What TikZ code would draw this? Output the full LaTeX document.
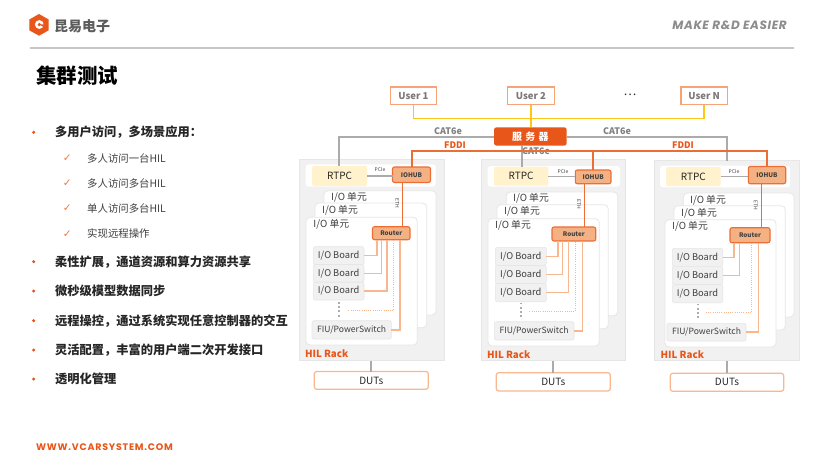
\documentclass[tikz,border=0pt]{standalone}
\usepackage{fontspec}
\setmainfont{Noto Sans CJK SC}
\newfontfamily\latinfont{Poppins}
\newfontfamily\symfont{DejaVu Sans}
\definecolor{brand}{HTML}{E9561A}
\definecolor{wirehot}{HTML}{EC6E35}
\definecolor{wirelite}{HTML}{F8B78F}
\definecolor{hubfill}{HTML}{F4B183}
\definecolor{userline}{HTML}{F6A27A}
\definecolor{rackfill}{HTML}{F1F1F1}
\definecolor{rackline}{HTML}{E6E6E6}
\definecolor{pcfill}{HTML}{FFF2CC}
\definecolor{cable}{HTML}{ABABAB}
\definecolor{ink}{HTML}{262626}
\definecolor{soft}{HTML}{404040}
\definecolor{yellowbus}{HTML}{FFC61A}
\tikzset{
  rackbox/.style={draw=rackline,fill=rackfill,line width=1pt},
  stripbox/.style={fill=white,rounded corners=3pt},
  cardbox/.style={draw=rackline,fill=white,line width=.8pt,rounded corners=4pt},
  pcbox/.style={fill=pcfill,rounded corners=2pt,text=ink,font=\fontsize{10}{12}\selectfont},
  hubbox/.style={draw=wirehot,fill=hubfill,line width=1.1pt,rounded corners=2pt,text=soft,font=\fontsize{6.3}{8}\bfseries\selectfont},
  boardbox/.style={draw=rackline,fill=rackfill,line width=.6pt,rounded corners=2pt,text=soft,font=\fontsize{9.3}{11}\selectfont},
  fiubox/.style={boardbox,font=\fontsize{8.6}{11}\selectfont},
  userbox/.style={draw=userline,fill=white,line width=1.2pt,text=gray!95!black,font=\fontsize{9.5}{11}\bfseries\selectfont},
  serverbox/.style={fill=brand,rounded corners=2.5pt,text=white,font=\fontsize{10}{12}\bfseries\selectfont},
  dutbox/.style={draw=wirelite,fill=white,line width=1.2pt,rounded corners=2.5pt,text=ink,font=\fontsize{10}{12}\selectfont},
  unitlabel/.style={inner sep=0pt,text=soft,font=\fontsize{9.8}{11}\selectfont},
  racklabel/.style={inner sep=0pt,text=brand,font=\fontsize{9.8}{12}\bfseries\selectfont},
  tinylabel/.style={inner sep=0pt,text=soft,font=\fontsize{5}{6}\selectfont},
  cablelabel/.style={inner sep=0pt,text=gray,font=\fontsize{9}{11}\bfseries\selectfont},
  fddilabel/.style={inner sep=0pt,text=brand,font=\fontsize{9}{11}\bfseries\selectfont},
  cat/.style={draw=cable,line width=1.7pt},
  thincat/.style={draw=cable,line width=1.2pt},
  bus/.style={draw=yellowbus,line width=1.5pt},
  fiber/.style={draw=wirehot,line width=1.8pt},
  link/.style={draw=wirehot,line width=1.5pt},
  lite/.style={draw=wirelite,line width=1.4pt},
  litedot/.style={draw=wirelite,line width=1pt,dash pattern=on 1pt off 1.2pt},
  vdots/.style={draw=gray!65,line width=1.9pt,dash pattern=on 1.9pt off 2.3pt},
  headitem/.style={anchor=west,inner sep=0pt,text=ink,font=\fontsize{12.25}{14}\bfseries\selectfont},
  subitem/.style={anchor=west,inner sep=0pt,text=soft,font=\fontsize{10.4}{12}\selectfont},
  dotmark/.style={circle,fill=brand,inner sep=0pt,minimum size=3.4pt},
  tickmark/.style={inner sep=0pt,text=brand!80,font=\symfont\fontsize{10.5}{11}\selectfont},
}
% node given by its two corners
\newcommand{\cornerbox}[7]{%
  \pgfmathsetmacro\cbW{#5-#3}\pgfmathsetmacro\cbH{#6-#4}%
  \node[#1,minimum width=\cbW pt,minimum height=\cbH pt,inner sep=0pt,outer sep=0pt]
    (#2) at ({(#3+#5)/2},{(#4+#6)/2}) {#7};}
\begin{document}
\begin{tikzpicture}[x=1pt,y=-1pt]
\useasboundingbox (0,0) rectangle (831,464);
\fill[white] (0,0) rectangle (831,464);

% header
\fill[brand] (39,14) -- (48.7,19.5) -- (48.7,30.3) -- (39,35.7) -- (29.3,30.3) -- (29.3,19.5) -- cycle;
\fill[white] (39.3,24.5) circle (4.4);
\fill[brand] (39.3,24.5) circle (1.8);
\fill[brand] (39.3,24.5) -- (45,24.2) -- (45,27.8) -- cycle;
\node[inner sep=0pt,anchor=west,text=soft!85,font=\fontsize{14}{16}\bfseries\selectfont] (brandname) at (54,26) {昆易电子};
\node[inner sep=0pt,anchor=east,text=gray!90,font=\latinfont\fontsize{12}{15}\bfseries\itshape\addfontfeatures{LetterSpace=5}] (slogan) at (787,25) {MAKE R\&D EASIER};
\draw[draw=gray!45,line width=1.2pt] (30,48) -- (794,48);
\node[inner sep=0pt,anchor=west,text=black,font=\fontsize{20.5}{24}\bfseries\selectfont] (title) at (36,76) {集群测试};
\node[inner sep=0pt,anchor=west,text=brand,font=\latinfont\fontsize{9.5}{12}\bfseries\addfontfeatures{LetterSpace=8}] (website) at (36,447.5) {WWW.VCARSYSTEM.COM};

% bullet list
\node[dotmark] (d1) at (33.7,132.3) {}; \node[headitem] (h1) at (55,132.3) {多用户访问，多场景应用：};
\node[tickmark] (c1) at (67.3,158.3) {✓}; \node[subitem] (s1) at (87,158.3) {多人访问一台HIL};
\node[tickmark] (c2) at (67.3,183.5) {✓}; \node[subitem] (s2) at (87,183.5) {多人访问多台HIL};
\node[tickmark] (c3) at (67.3,208.5) {✓}; \node[subitem] (s3) at (87,208.5) {单人访问多台HIL};
\node[tickmark] (c4) at (67.3,233.7) {✓}; \node[subitem] (s4) at (87,233.7) {实现远程操作};
\node[dotmark] (d2) at (33.7,261.7) {}; \node[headitem] (h2) at (55,261.7) {柔性扩展，通道资源和算力资源共享};
\node[dotmark] (d3) at (33.7,291) {}; \node[headitem] (h3) at (55,291) {微秒级模型数据同步};
\node[dotmark] (d4) at (33.7,320.7) {}; \node[headitem] (h4) at (55,320.7) {远程操控，通过系统实现任意控制器的交互};
\node[dotmark] (d5) at (33.7,350) {}; \node[headitem] (h5) at (55,350) {灵活配置，丰富的用户端二次开发接口};
\node[dotmark] (d6) at (33.7,379) {}; \node[headitem] (h6) at (55,379) {透明化管理};

% users and server
\cornerbox{userbox}{u1}{390.5}{87}{436.5}{104.5}{User 1}
\cornerbox{userbox}{u2}{507.5}{87}{554.3}{104.5}{User 2}
\cornerbox{userbox}{un}{681}{87}{727.3}{104.5}{User N}
\node[inner sep=0pt,text=ink,font=\fontsize{12}{12}\selectfont] (more) at (630,95) {…};
\cornerbox{serverbox}{srv}{494}{127.3}{566.7}{145.7}{服\,\,务\,\,器}
\coordinate (busl) at (413,118.3);
\draw[bus] (u1.south) |- (un.south |- busl) -- (un.south);
\draw[bus] (u2.south) -- (srv.north -| u2.south);

% first rack
\cornerbox{rackbox}{ra}{299.5}{159}{444}{360.5}{}
\cornerbox{stripbox}{sa}{305.7}{164.3}{435.7}{186.7}{}
\cornerbox{cardbox}{ca3}{324}{190.7}{436}{315}{}
\cornerbox{cardbox}{ca2}{315}{203}{426.7}{327.7}{}
\cornerbox{cardbox}{ca1}{306}{217.3}{417.3}{345}{}
\node[unitlabel] (la3) at (349,197.7) {I/O 单元};
\node[unitlabel] (la2) at (340,210.7) {I/O 单元};
\node[unitlabel] (la1) at (331.3,224) {I/O 单元};
\cornerbox{pcbox}{pa}{312}{166}{367}{186}{RTPC}
\cornerbox{hubbox}{ha}{392.5}{167}{430.5}{182.5}{IOHUB}
\cornerbox{hubbox}{qa}{372.5}{226.7}{410}{239.7}{Router}
\cornerbox{boardbox}{ba1}{313.3}{246.7}{364}{264.5}{I/O Board}
\cornerbox{boardbox}{ba2}{313.3}{264.5}{364}{282.2}{I/O Board}
\cornerbox{boardbox}{ba3}{313.3}{282.2}{364}{300}{I/O Board}
\cornerbox{fiubox}{fa}{312}{320.7}{391.3}{339}{FIU/PowerSwitch}
\coordinate (oa) at (348.3,310.3);
\draw[vdots] (339,302) -- (339,317);
\node[tinylabel] (pcia) at (380,170) {PCIe};
\node[tinylabel,rotate=-90] (etha) at (397.3,203.5) {ETH};
\draw[thincat] (pa.east) -- (ha.west |- pa.east);
\draw[link] ([xshift=10.2pt]ha.south west) -- ([xshift=30.2pt]qa.north west);
\draw[lite] (ba1.east) -| ([xshift=4.5pt]qa.south west);
\draw[lite] (ba2.east) -| ([xshift=9.2pt]qa.south west);
\draw[lite] (ba3.east) -| ([xshift=14.5pt]qa.south west);
\draw[litedot] (oa) -| ([xshift=21.2pt]qa.south west);
\draw[lite] (fa.east) -| ([xshift=27.5pt]qa.south west);
\node[racklabel] (nra) at (326.7,353.5) {HIL Rack};
\cornerbox{dutbox}{da}{314.3}{371.5}{428.3}{389.3}{DUTs}
\draw[cat] (da.north) -- (da.north |- ra.south);

% second rack
\cornerbox{rackbox}{rb}{481}{159.5}{625.7}{360.7}{}
\cornerbox{stripbox}{sb}{487.7}{166}{620}{186.7}{}
\cornerbox{cardbox}{cb3}{506.3}{192}{617.7}{315.7}{}
\cornerbox{cardbox}{cb2}{497}{204.7}{608.3}{328.7}{}
\cornerbox{cardbox}{cb1}{488}{218.7}{599.3}{346}{}
\node[unitlabel] (lb3) at (531,198.7) {I/O 单元};
\node[unitlabel] (lb2) at (522,211.7) {I/O 单元};
\node[unitlabel] (lb1) at (513,225.7) {I/O 单元};
\cornerbox{pcbox}{pb}{494}{166.7}{548.3}{185.7}{RTPC}
\cornerbox{hubbox}{hb}{575.3}{170}{611}{183.7}{IOHUB}
\cornerbox{hubbox}{qb}{552}{227}{595.7}{241}{Router}
\cornerbox{boardbox}{bb1}{495.3}{247.3}{546.3}{265.5}{I/O Board}
\cornerbox{boardbox}{bb2}{495.3}{265.5}{546.3}{283.5}{I/O Board}
\cornerbox{boardbox}{bb3}{495.3}{283.5}{546.3}{301.7}{I/O Board}
\cornerbox{fiubox}{fb}{494.3}{321.7}{574}{340}{FIU/PowerSwitch}
\coordinate (ob) at (529.3,311);
\draw[vdots] (520.7,302.5) -- (520.7,318);
\node[tinylabel] (pcib) at (563,171.5) {PCIe};
\node[tinylabel,rotate=-90] (ethb) at (579,204.5) {ETH};
\draw[thincat] (pb.east) -- (hb.west |- pb.east);
\draw[link] ([xshift=9.4pt]hb.south west) -- ([xshift=32.7pt]qb.north west);
\draw[lite] (bb1.east) -| ([xshift=6pt]qb.south west);
\draw[lite] (bb2.east) -| ([xshift=10.7pt]qb.south west);
\draw[lite] (bb3.east) -| ([xshift=16.3pt]qb.south west);
\draw[litedot] (ob) -| ([xshift=23.3pt]qb.south west);
\draw[lite] (fb.east) -| ([xshift=30.3pt]qb.south west);
\node[racklabel] (nrb) at (508.7,354.5) {HIL Rack};
\cornerbox{dutbox}{db}{496.3}{372.7}{610.3}{391}{DUTs}
\draw[cat] (db.north) -- (db.north |- rb.south);

% third rack
\cornerbox{rackbox}{rc}{654.7}{160.7}{799}{360.7}{}
\cornerbox{stripbox}{sc}{660}{165.7}{790}{187.3}{}
\cornerbox{cardbox}{cc3}{683.3}{193}{794}{317}{}
\cornerbox{cardbox}{cc2}{674}{205.7}{785.3}{330}{}
\cornerbox{cardbox}{cc1}{665}{219.7}{776}{347}{}
\node[unitlabel] (lc3) at (708,200) {I/O 单元};
\node[unitlabel] (lc2) at (699,213) {I/O 单元};
\node[unitlabel] (lc1) at (690,226.5) {I/O 单元};
\cornerbox{pcbox}{pc}{666}{167}{720.7}{186}{RTPC}
\cornerbox{hubbox}{hc}{748.3}{166.5}{785.7}{183.7}{IOHUB}
\cornerbox{hubbox}{qc}{730}{227.7}{770}{242.7}{Router}
\cornerbox{boardbox}{bc1}{672.3}{248.3}{722.7}{266.3}{I/O Board}
\cornerbox{boardbox}{bc2}{672.3}{266.3}{722.7}{284.5}{I/O Board}
\cornerbox{boardbox}{bc3}{672.3}{284.5}{722.7}{302.7}{I/O Board}
\cornerbox{fiubox}{fc}{667}{323.3}{746}{341}{FIU/PowerSwitch}
\coordinate (oc) at (706,312.3);
\draw[vdots] (697.7,303.5) -- (697.7,319);
\node[tinylabel] (pcic) at (734,171.5) {PCIe};
\node[tinylabel,rotate=-90] (ethc) at (755.7,205) {ETH};
\draw[thincat] (pc.east) -- (hc.west |- pc.east);
\draw[link] ([xshift=13pt]hc.south west) -- ([xshift=31.3pt]qc.north west);
\draw[lite] (bc1.east) -| ([xshift=4pt]qc.south west);
\draw[lite] (bc2.east) -| ([xshift=9.3pt]qc.south west);
\draw[litedot] (oc) -| ([xshift=21.7pt]qc.south west);
\draw[lite] (fc.east) -| ([xshift=28.7pt]qc.south west);
\node[racklabel] (nrc) at (682.3,354.5) {HIL Rack};
\cornerbox{dutbox}{dc}{670.3}{373.3}{783.7}{391.3}{DUTs}
\draw[cat] (dc.north) -- (dc.north |- rc.south);

% network cabling between server and racks
\coordinate (catrow) at (339.3,136.7);
\draw[cat] (srv.west |- catrow) -| (pa.north -| catrow);
\draw[cat] (srv.east |- catrow) -| (rc.north -| dc.north);
\node[cablelabel] (cat1) at (448,131) {CAT6e};
\node[cablelabel] (cat3) at (617,131) {CAT6e};
\node[cablelabel] (cat2) at (536,150.7) {CAT6e};
\draw[cat] (srv.south -| 521.7,0) -- (pb.north -| 521.7,0);
\coordinate (fiberrow) at (411.7,151);
\draw[fiber] (ha.north -| fiberrow) |- ([xshift=18.4pt]hc.north west |- fiberrow) -- ([xshift=18.4pt]hc.north west);
\draw[fiber] (593,151) -- (hb.north -| 593,0);
\node[fddilabel] (f1) at (455,145) {FDDI};
\node[fddilabel] (f2) at (683,145.5) {FDDI};
\end{tikzpicture}
\end{document}
